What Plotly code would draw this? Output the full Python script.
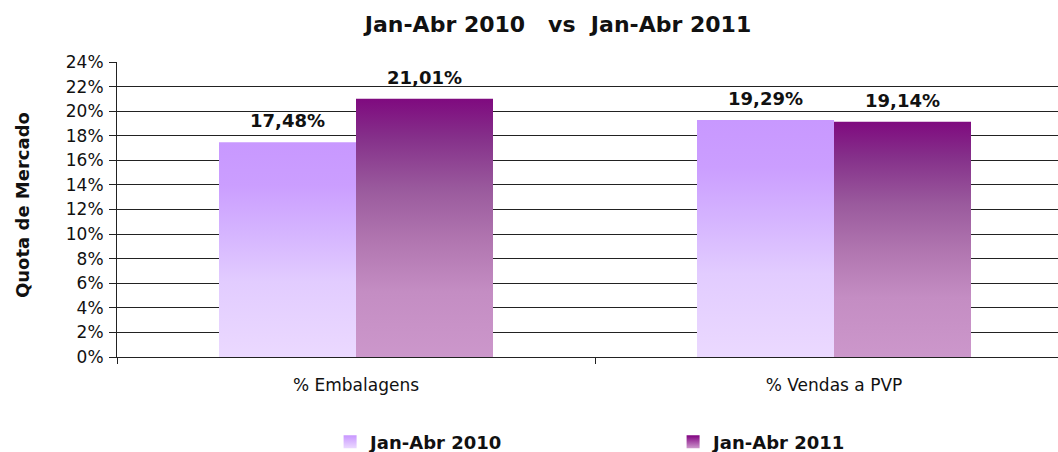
import plotly.graph_objects as go

categories = ["% Embalagens", "% Vendas a PVP"]
series_names = ["Jan-Abr 2010", "Jan-Abr 2011"]
values_2010 = [0.1748, 0.1929]
values_2011 = [0.2101, 0.1914]
y_ticks = [0, 0.02, 0.04, 0.06, 0.08, 0.10, 0.12, 0.14, 0.16, 0.18, 0.20, 0.22, 0.24]

series_values = [values_2010, values_2011]
scales = [
    [[0, "#EBD9FF"], [0.35, "#E2CCFF"], [0.6, "#D4B2FF"], [0.8, "#CB9EFF"], [1, "#C898FF"]],
    [[0, "#CC97CB"], [0.25, "#C48DC3"], [0.45, "#B176B0"], [0.65, "#9A5A9D"], [0.85, "#85308A"], [1, "#7F0A7F"]],
]
legend_top = ["#C896FF", "#800080"]
legend_bottom = ["#EBD9FF", "#CC97CB"]

# layout constants (pixels)
PLOT_L, PLOT_R, PLOT_T, PLOT_B = 117, 1058, 62, 357
CAT_PX = 478  # width of one category band; plot area continues past the right edge
X_MAX = -0.5 + (PLOT_R - PLOT_L) / CAT_PX
BAR_W = 137 / CAT_PX
GROUP_W = 2 * BAR_W
FONT = "DejaVu Sans"
TXT = "#111111"

fig = go.Figure()
annotations = []
for s, vals in enumerate(series_values):
    for i, v in enumerate(vals):
        x0 = i - GROUP_W / 2 + s * BAR_W
        x1 = x0 + BAR_W
        fig.add_trace(go.Scatter(
            x=[x0, x0, x1, x1, x0], y=[0, v, v, 0, 0],
            mode="lines", fill="toself", line=dict(width=0),
            fillgradient=dict(type="vertical", colorscale=scales[s]),
            showlegend=False, hoverinfo="skip"))
        annotations.append(dict(
            x=(x0 + x1) / 2, y=v, xref="x", yref="y",
            text=f"{v*100:.2f}%".replace(".", ","), showarrow=False,
            yanchor="bottom", yshift=9,
            font=dict(family=FONT, size=18, color=TXT, weight="bold")))

for s, name in enumerate(series_names):
    fig.add_trace(go.Scatter(
        x=[None], y=[None], mode="markers", name=name,
        marker=dict(symbol="square", size=13, color=legend_top[s],
                    gradient=dict(type="vertical", color=legend_bottom[s]),
                    line=dict(width=0))))

annotations.append(dict(
    x=(22 - PLOT_L) / (PLOT_R - PLOT_L), y=(PLOT_B - 205) / (PLOT_B - PLOT_T),
    xref="paper", yref="paper", text="Quota de Mercado",
    textangle=-90, showarrow=False, xanchor="center", yanchor="middle",
    font=dict(family=FONT, size=18, color=TXT, weight="bold")))

fig.update_layout(
    width=1058, height=452,
    margin=dict(l=PLOT_L, r=1058 - PLOT_R, t=PLOT_T, b=452 - PLOT_B),
    paper_bgcolor="white", plot_bgcolor="white",
    title=dict(text="Jan-Abr 2010\u00a0\u00a0\u00a0vs\u00a0\u00a0Jan-Abr 2011",
               xref="container", x=558 / 1058, xanchor="center",
               yref="container", y=1 - 24 / 452, yanchor="middle",
               font=dict(family=FONT, size=22, color=TXT, weight="bold")),
    xaxis=dict(range=[-0.5, X_MAX], tickvals=[0, 1], ticktext=categories,
               ticks="", showgrid=False, zeroline=False,
               showline=True, linecolor="#222222", linewidth=1,
               ticklabelstandoff=13,
               tickfont=dict(family=FONT, size=17, color=TXT),
               minor=dict(tickvals=[-0.5, 0.5, 1.5], ticks="outside", ticklen=6,
                          tickcolor="#222222", showgrid=False)),
    yaxis=dict(range=[0, 0.24], tickvals=y_ticks, tickformat=".0%",
               ticks="outside", ticklen=7, tickcolor="#222222",
               ticklabelstandoff=2,
               showgrid=True, gridcolor="#222222", gridwidth=1,
               zeroline=False, showline=True, linecolor="#222222", linewidth=1,
               tickfont=dict(family=FONT, size=17, color=TXT)),
    showlegend=True,
    legend=dict(orientation="h", xref="container", yref="container",
                x=0.312, y=1 - 442 / 452, xanchor="left", yanchor="middle",
                entrywidth=298, entrywidthmode="pixels",
                font=dict(family=FONT, size=18, color=TXT, weight="bold")),
    annotations=annotations,
)

fig.write_html("out.html", config={"displayModeBar": False},
               post_script="document.body.style.margin='0';")
